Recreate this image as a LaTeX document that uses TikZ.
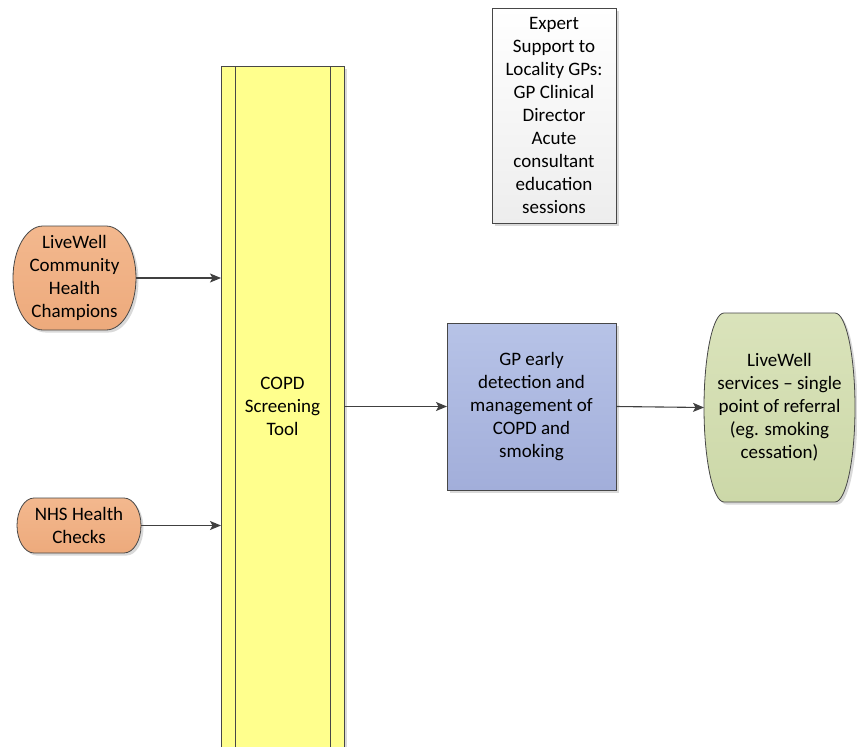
\documentclass[tikz,border=0pt]{standalone}
\usepackage{fontspec}
\setmainfont{Carlito}
\usetikzlibrary{arrows.meta,calc,backgrounds}

\definecolor{barfill}{HTML}{FFFF8D}
\definecolor{champtop}{HTML}{F3B88E}
\definecolor{champbot}{HTML}{EDAA7C}
\definecolor{gptop}{HTML}{B7C3E7}
\definecolor{gpbot}{HTML}{A2AEDA}
\definecolor{reftop}{HTML}{DAE3BB}
\definecolor{refbot}{HTML}{CCD8A8}

% rounded-side outline round a node, #2 = width of the curved side
\newcommand{\termpath}[2]{([xshift=#2]#1.north west) -- ([xshift=-#2]#1.north east)
  .. controls ([xshift=-0.448*#2]#1.north east) and ($(#1.east)!0.552!(#1.north east)$) .. (#1.east)
  .. controls ($(#1.east)!0.552!(#1.south east)$) and ([xshift=-0.448*#2]#1.south east) .. ([xshift=-#2]#1.south east)
  -- ([xshift=#2]#1.south west)
  .. controls ([xshift=0.448*#2]#1.south west) and ($(#1.west)!0.552!(#1.south west)$) .. (#1.west)
  .. controls ($(#1.west)!0.552!(#1.north west)$) and ([xshift=0.448*#2]#1.north west) .. cycle}

\tikzset{
  txt/.style={rectangle, inner sep=0pt, outer sep=0pt, align=center,
    font=\fontsize{19}{23}\selectfont},
  edge/.style={draw=black!72, line width=0.8pt},
  shade/.style={fill=black!15, transform canvas={xshift=2.5pt,yshift=-2.5pt}},
  flow/.style={draw=black!75, line width=1.1pt, -{Stealth[length=11pt,width=9pt,inset=2.5pt]}},
}

\begin{document}
\begin{tikzpicture}[x=1pt,y=-1pt]
  \useasboundingbox (0,0) rectangle (857,747);

  % texts
  \node[txt, minimum width=123, minimum height=681] (bar) at (282.5,406.5) {COPD\\Screening\\Tool};
  \node[txt, minimum width=123, minimum height=104] (champ) at (74.5,278) {LiveWell\\Community\\Health\\Champions};
  \node[txt, minimum width=124, minimum height=55] (nhs) at (79,525.5) {NHS Health\\Checks};
  \node[txt, minimum width=169, minimum height=167] (gp) at (531.5,406.5) {GP early\\detection and\\management of\\COPD and\\smoking};
  \node[txt, minimum width=151, minimum height=189] (ref) at (779.5,407.5) {LiveWell\\services – single\\point of referral\\(eg. smoking\\cessation)};
  \node[txt, minimum width=124, minimum height=215] (expert) at (554,115.5) {Expert\\Support to\\Locality GPs:\\GP Clinical\\Director\\Acute\\consultant\\education\\sessions};

  \begin{scope}[on background layer]
    % shadows
    \fill[shade] (bar.north west) rectangle (bar.south east);
    \fill[shade] (gp.north west) rectangle (gp.south east);
    \fill[shade] (expert.north west) rectangle (expert.south east);
    \fill[shade] \termpath{champ}{30};
    \fill[shade] \termpath{nhs}{17};
    \fill[shade] \termpath{ref}{20};

    % screening bar, open at the bottom
    \fill[barfill] (bar.north west) rectangle (bar.south east);
    \draw[edge] (bar.south west) -- (bar.north west) -- (bar.north east) -- (bar.south east);
    \draw[edge] ([xshift=14]bar.north west) -- ([xshift=14]bar.south west);
    \draw[edge] ([xshift=-14]bar.north east) -- ([xshift=-14]bar.south east);

    \draw[edge, top color=champtop, bottom color=champbot] \termpath{champ}{30};
    \draw[edge, top color=champtop, bottom color=champbot] \termpath{nhs}{17};
    \draw[edge, top color=reftop, bottom color=refbot] \termpath{ref}{20};
    \draw[edge, top color=gptop, bottom color=gpbot] (gp.north west) rectangle (gp.south east);
    \draw[edge, top color=white, bottom color=black!7] (expert.north west) rectangle (expert.south east);
  \end{scope}

  \draw[flow] (champ.east) -- (champ.east -| bar.west);
  \draw[flow] (nhs.east) -- (nhs.east -| bar.west);
  \draw[flow] (bar.east |- gp.west) -- (gp.west);
  \draw[flow] (gp.east) -- (ref.west);
\end{tikzpicture}
\end{document}
